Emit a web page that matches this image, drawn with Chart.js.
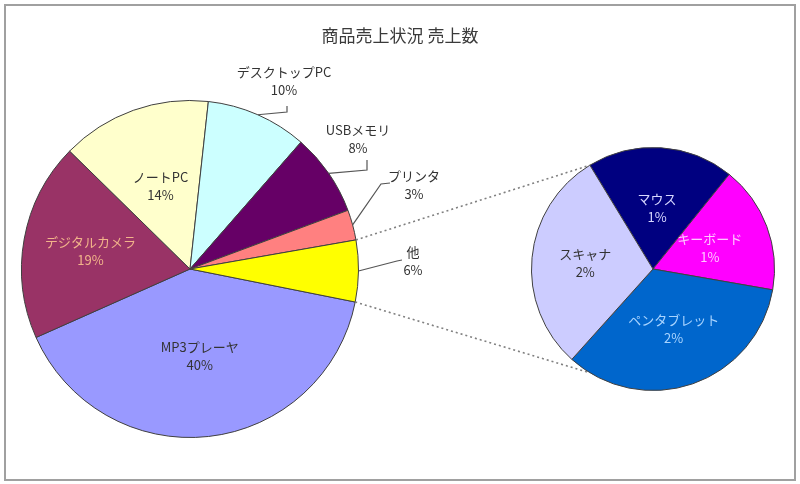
<!DOCTYPE html>
<html><head><meta charset="utf-8">
<script src="https://cdn.jsdelivr.net/npm/chart.js@4.4.1/dist/chart.umd.min.js"></script>
<style>
html,body{margin:0;padding:0;background:#fff;}
#wrap{position:relative;width:800px;height:484px;}
canvas{position:absolute;left:0;top:0;}
</style></head><body>
<div id="wrap"><canvas id="main" width="800" height="484"></canvas><canvas id="sub" width="800" height="484"></canvas></div>
<script>
const chartTitle = '商品売上状況 売上数';
const mainLabels = ['MP3プレーヤ','デジタルカメラ','ノートPC','デスクトップPC','USBメモリ','プリンタ','他'];
const mainValues = [40.2, 19.0, 14.4, 9.7, 7.9, 2.9, 5.9];
const subLabels = ['マウス','キーボード','ペンタブレット','スキャナ'];
const subValues = [1.15, 1.0, 2.0, 1.75];
const mainColors = ['#9999ff','#993366','#ffffcc','#ccffff','#660066','#ff8080','#ffff00'];
const subColors = ['#000080','#ff00ff','#0066cc','#ccccff'];

const FONT = '"Noto Sans CJK JP", "Noto Sans", sans-serif';
const total = mainValues.reduce((a,b)=>a+b,0);
const pct = v => Math.round(v/total*100) + '%';

// label styling / layout (not data)
const mainInner = {0:{f:0.52,color:'#333'},1:{f:0.60,color:'#f2b48a'},2:{f:0.52,color:'#333'}};
const subInner = {0:{f:0.50,color:'#d8d8ff'},1:{f:0.50,color:'#ffc8ff'},2:{f:0.52,color:'#a8d4ff'},3:{f:0.56,color:'#333'}};
const callouts = {
  3:{text:[94,-188], elbow:[97,-157], end:[97,-163]},
  4:{text:[168,-130], elbow:[177,-99], end:[177,-109]},
  5:{text:[224,-84], elbow:[191,-85], end:[200,-86]},
  6:{text:[223,-8], elbow:[207,-8], end:[212,-9]}
};

function twoLines(ctx, x, y, a, b, color){
  ctx.save();
  ctx.font = '13px ' + FONT;
  ctx.fillStyle = color;
  ctx.textAlign = 'center';
  ctx.textBaseline = 'middle';
  ctx.fillText(a, x, y-9);
  ctx.fillText(b, x, y+9);
  ctx.restore();
}

const mainDeco = {
  id:'mainDeco',
  beforeDraw(chart){
    const ctx = chart.ctx;
    ctx.save();
    ctx.fillStyle = '#fff';
    ctx.fillRect(0,0,chart.width,chart.height);
    ctx.strokeStyle = '#a0a0a0';
    ctx.lineWidth = 2;
    ctx.strokeRect(5,5,790,475);
    ctx.fillStyle = '#3a3a3a';
    ctx.font = '17px ' + FONT;
    ctx.textAlign = 'center';
    ctx.textBaseline = 'middle';
    ctx.fillText(chartTitle, 400, 36);
    ctx.restore();
  },
  afterDatasetsDraw(chart){
    const ctx = chart.ctx;
    const meta = chart.getDatasetMeta(0);
    meta.data.forEach((arc, i) => {
      const p = arc.getProps(['x','y','startAngle','endAngle','outerRadius'], true);
      const mid = (p.startAngle + p.endAngle)/2;
      if (mainInner[i]) {
        const r = p.outerRadius * mainInner[i].f;
        twoLines(ctx, p.x + r*Math.cos(mid), p.y + r*Math.sin(mid), mainLabels[i], pct(mainValues[i]), mainInner[i].color);
      } else if (callouts[i]) {
        const c = callouts[i];
        const ex = p.x + p.outerRadius*Math.cos(mid), ey = p.y + p.outerRadius*Math.sin(mid);
        ctx.save();
        ctx.strokeStyle = '#555';
        ctx.lineWidth = 1.2;
        ctx.beginPath();
        ctx.moveTo(ex, ey);
        ctx.lineTo(p.x + c.elbow[0], p.y + c.elbow[1]);
        ctx.lineTo(p.x + c.end[0], p.y + c.end[1]);
        ctx.stroke();
        ctx.restore();
        twoLines(ctx, p.x + c.text[0], p.y + c.text[1], mainLabels[i], pct(mainValues[i]), '#333');
      }
    });
  }
};

const mainChart = new Chart(document.getElementById('main'), {
  type:'pie',
  data:{labels:mainLabels, datasets:[{data:mainValues, backgroundColor:mainColors, borderColor:'#404040', borderWidth:1}]},
  options:{
    responsive:false, animation:false, rotation:101.3,
    layout:{padding:{left:21, top:100, right:441, bottom:46}},
    plugins:{legend:{display:false}, tooltip:{enabled:false}, title:{display:false}}
  },
  plugins:[mainDeco]
});

const subDeco = {
  id:'subDeco',
  afterDatasetsDraw(chart){
    const ctx = chart.ctx;
    const meta = chart.getDatasetMeta(0);
    meta.data.forEach((arc, i) => {
      const p = arc.getProps(['x','y','startAngle','endAngle','outerRadius'], true);
      const mid = (p.startAngle + p.endAngle)/2;
      const r = p.outerRadius * subInner[i].f;
      twoLines(ctx, p.x + r*Math.cos(mid), p.y + r*Math.sin(mid), subLabels[i], pct(subValues[i]), subInner[i].color);
    });
    // connectors from "他" slice to second pie
    const other = mainChart.getDatasetMeta(0).data[6].getProps(['x','y','startAngle','endAngle','outerRadius'], true);
    const first = meta.data[0].getProps(['x','y','startAngle','outerRadius'], true);
    const topA = first.startAngle;          // canvas angle
    const botA = -topA;                     // mirrored about horizontal axis
    ctx.save();
    ctx.strokeStyle = '#808080';
    ctx.lineWidth = 1.6;
    ctx.setLineDash([2,3]);
    ctx.beginPath();
    ctx.moveTo(other.x + other.outerRadius*Math.cos(other.startAngle), other.y + other.outerRadius*Math.sin(other.startAngle));
    ctx.lineTo(first.x + first.outerRadius*Math.cos(topA), first.y + first.outerRadius*Math.sin(topA));
    ctx.moveTo(other.x + other.outerRadius*Math.cos(other.endAngle), other.y + other.outerRadius*Math.sin(other.endAngle));
    ctx.lineTo(first.x + first.outerRadius*Math.cos(botA), first.y + first.outerRadius*Math.sin(botA));
    ctx.stroke();
    ctx.restore();
  }
};

new Chart(document.getElementById('sub'), {
  type:'pie',
  data:{labels:subLabels, datasets:[{data:subValues, backgroundColor:subColors, borderColor:'#404040', borderWidth:1}]},
  options:{
    responsive:false, animation:false, rotation:-31.3,
    layout:{padding:{left:531, top:147, right:25, bottom:93}},
    plugins:{legend:{display:false}, tooltip:{enabled:false}, title:{display:false}}
  },
  plugins:[subDeco]
});
</script>
</body></html>
